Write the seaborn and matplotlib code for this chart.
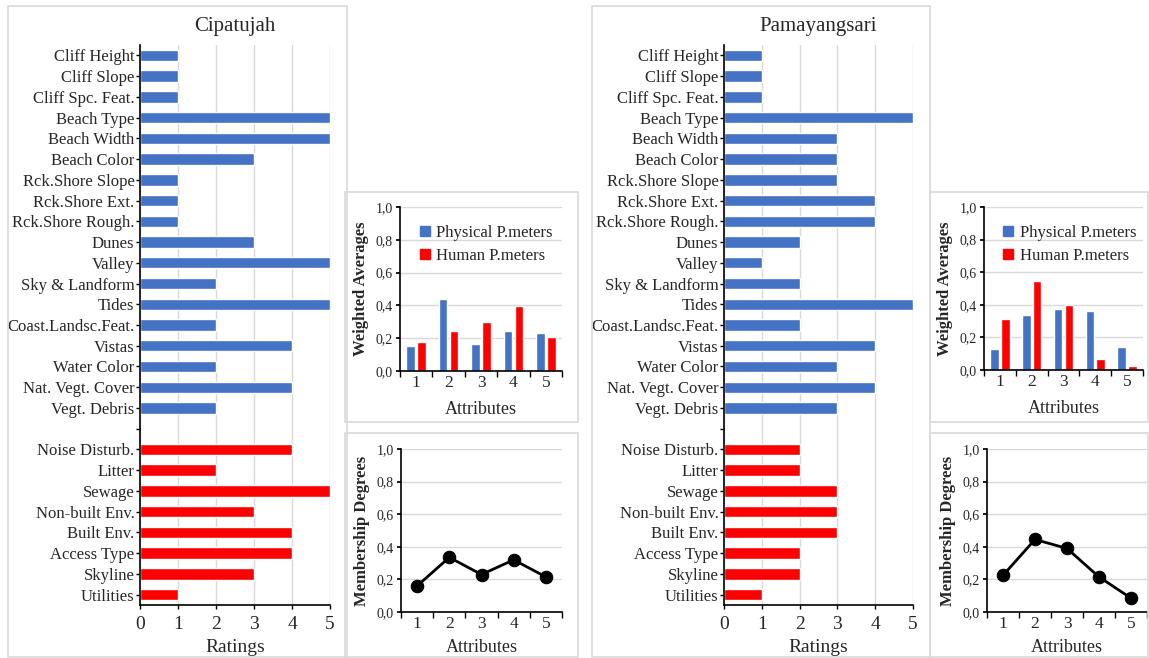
import matplotlib
matplotlib.use("Agg")
import matplotlib.pyplot as plt
import seaborn as sns
import pandas as pd
from matplotlib.patches import Rectangle
from matplotlib.lines import Line2D

# --- data ---
physical_labels = ["Cliff Height", "Cliff Slope", "Cliff Spc. Feat.", "Beach Type", "Beach Width",
                   "Beach Color", "Rck.Shore Slope", "Rck.Shore Ext.", "Rck.Shore Rough.", "Dunes",
                   "Valley", "Sky & Landform", "Tides", "Coast.Landsc.Feat.", "Vistas",
                   "Water Color", "Nat. Vegt. Cover", "Vegt. Debris"]
human_labels = ["Noise Disturb.", "Litter", "Sewage", "Non-built Env.", "Built Env.",
                "Access Type", "Skyline", "Utilities"]

cip_physical = [1, 1, 1, 5, 5, 3, 1, 1, 1, 3, 5, 2, 5, 2, 4, 2, 4, 2]
cip_human = [4, 2, 5, 3, 4, 4, 3, 1]
pam_physical = [1, 1, 1, 5, 3, 3, 3, 4, 4, 2, 1, 2, 5, 2, 4, 3, 4, 3]
pam_human = [2, 2, 3, 3, 3, 2, 2, 1]

attributes = ["1", "2", "3", "4", "5"]
cip_wavg_physical = [0.15, 0.44, 0.165, 0.245, 0.23]
cip_wavg_human = [0.175, 0.245, 0.30, 0.395, 0.21]
pam_wavg_physical = [0.13, 0.34, 0.375, 0.36, 0.14]
pam_wavg_human = [0.315, 0.545, 0.40, 0.07, 0.025]

cip_membership = [0.16, 0.335, 0.23, 0.32, 0.215]
pam_membership = [0.225, 0.445, 0.39, 0.215, 0.085]

y_small_ticks = [0.0, 0.2, 0.4, 0.6, 0.8, 1.0]
y_small_labels = ["0,0", "0,2", "0,4", "0,6", "0,8", "1,0"]

BLUE = "#4472C4"
RED = "#FF0000"
GRID = "#d9d9d9"

sns.set_theme(style="white")
plt.rcParams["font.family"] = ["Liberation Serif", "DejaVu Serif"]

W, H = 1149, 658
fig = plt.figure(figsize=(W / 100, H / 100), dpi=100)


def ax_px(x0, y0, x1, y1):
    # pixel box -> figure axes
    return fig.add_axes([x0 / W, 1 - y1 / H, (x1 - x0) / W, (y1 - y0) / H])


def box_px(x0, y0, x1, y1):
    fig.patches.append(Rectangle((x0 / W, 1 - y1 / H), (x1 - x0) / W, (y1 - y0) / H,
                                 transform=fig.transFigure, fill=False,
                                 edgecolor="#d9d9d9", linewidth=1.2))


def black_spines(ax):
    for s in ["top", "right"]:
        ax.spines[s].set_visible(False)
    for s in ["left", "bottom"]:
        ax.spines[s].set_color("black")
        ax.spines[s].set_linewidth(1.2)


def ratings_panel(ax, phys, hum, title):
    order = physical_labels + [""] + human_labels
    df = pd.DataFrame({
        "label": physical_labels + human_labels,
        "value": phys + hum,
        "group": ["Physical"] * len(phys) + ["Human"] * len(hum),
    })
    sns.barplot(data=df, x="value", y="label", hue="group", order=order,
                palette={"Physical": BLUE, "Human": RED}, dodge=False,
                width=0.55, legend=False, ax=ax, saturation=1)
    ax.set_xlim(0, 5)
    ax.set_xticks([0, 1, 2, 3, 4, 5])
    ax.grid(axis="x", color=GRID, linewidth=1)
    ax.set_axisbelow(True)
    ax.tick_params(axis="y", labelsize=12, length=3, width=1, color="black", pad=1, left=True)
    ax.tick_params(axis="x", labelsize=14, length=3, width=1, color="black", bottom=True, pad=5)
    ax.set_ylabel("")
    ax.set_xlabel("Ratings", fontsize=14, labelpad=4)
    ax.set_title(title, fontsize=15, pad=10)
    black_spines(ax)


def small_style(ax, ylabel, minor, xpad):
    ax.set_ylim(0, 1)
    ax.set_yticks(y_small_ticks)
    ax.set_yticklabels(y_small_labels)
    ax.set_xticks(minor, minor=True)
    ax.grid(axis="y", color=GRID, linewidth=1)
    ax.set_axisbelow(True)
    ax.tick_params(axis="y", labelsize=10, length=3, left=True, color="black", pad=2)
    ax.tick_params(axis="x", which="major", labelsize=12.5, length=0, pad=3)
    ax.tick_params(axis="x", which="minor", length=4, bottom=True, color="black")
    ax.set_ylabel(ylabel, fontsize=12, fontweight="bold", labelpad=5)
    ax.set_xlabel("Attributes", fontsize=13, labelpad=xpad)
    black_spines(ax)


def wavg_panel(ax, phys, hum):
    df = pd.DataFrame({
        "attr": attributes * 2,
        "value": phys + hum,
        "type": ["Physical P.meters"] * 5 + ["Human P.meters"] * 5,
    })
    sns.barplot(data=df, x="attr", y="value", hue="type", order=attributes,
                palette={"Physical P.meters": BLUE, "Human P.meters": RED},
                width=0.68, gap=0.22, saturation=1, ax=ax)
    small_style(ax, "Weighted Averages", [i - 0.5 for i in range(len(attributes) + 1)], 7)
    handles = [Line2D([], [], marker="s", linestyle="", color=BLUE, markersize=7),
               Line2D([], [], marker="s", linestyle="", color=RED, markersize=7)]
    ax.legend(handles, ["Physical P.meters", "Human P.meters"], loc="upper left",
              bbox_to_anchor=(0.08, 0.93), frameon=False, fontsize=12,
              handlelength=0.6, handletextpad=0.4, labelspacing=0.4, borderaxespad=0)


def member_panel(ax, vals):
    xs = [int(a) for a in attributes]
    df = pd.DataFrame({"attr": xs, "value": vals})
    sns.lineplot(data=df, x="attr", y="value", color="black", marker="o",
                 markersize=9, linewidth=2, markeredgecolor="black", ax=ax)
    ax.set_xlim(0.5, 5.5)
    ax.set_xticks(xs)
    small_style(ax, "Membership Degrees", [x - 0.5 for x in xs] + [xs[-1] + 0.5], 5)


# panel frames
box_px(8, 6, 347, 657)
box_px(345, 192, 578, 422)
box_px(345, 433, 578, 657)
box_px(592, 6, 930, 657)
box_px(930, 192, 1148, 422)
box_px(930, 433, 1148, 657)

ax1 = ax_px(140, 45, 330, 605)
ratings_panel(ax1, cip_physical, cip_human, "Cipatujah")
ax2 = ax_px(724, 45, 913, 605)
ratings_panel(ax2, pam_physical, pam_human, "Pamayangsari")

ax3 = ax_px(400, 207, 562, 371)
wavg_panel(ax3, cip_wavg_physical, cip_wavg_human)
ax4 = ax_px(984, 207, 1143, 370)
wavg_panel(ax4, pam_wavg_physical, pam_wavg_human)

ax5 = ax_px(401, 449, 562, 612)
member_panel(ax5, cip_membership)
ax6 = ax_px(987, 449, 1147, 612)
member_panel(ax6, pam_membership)

fig.savefig("out.png", dpi=100)
